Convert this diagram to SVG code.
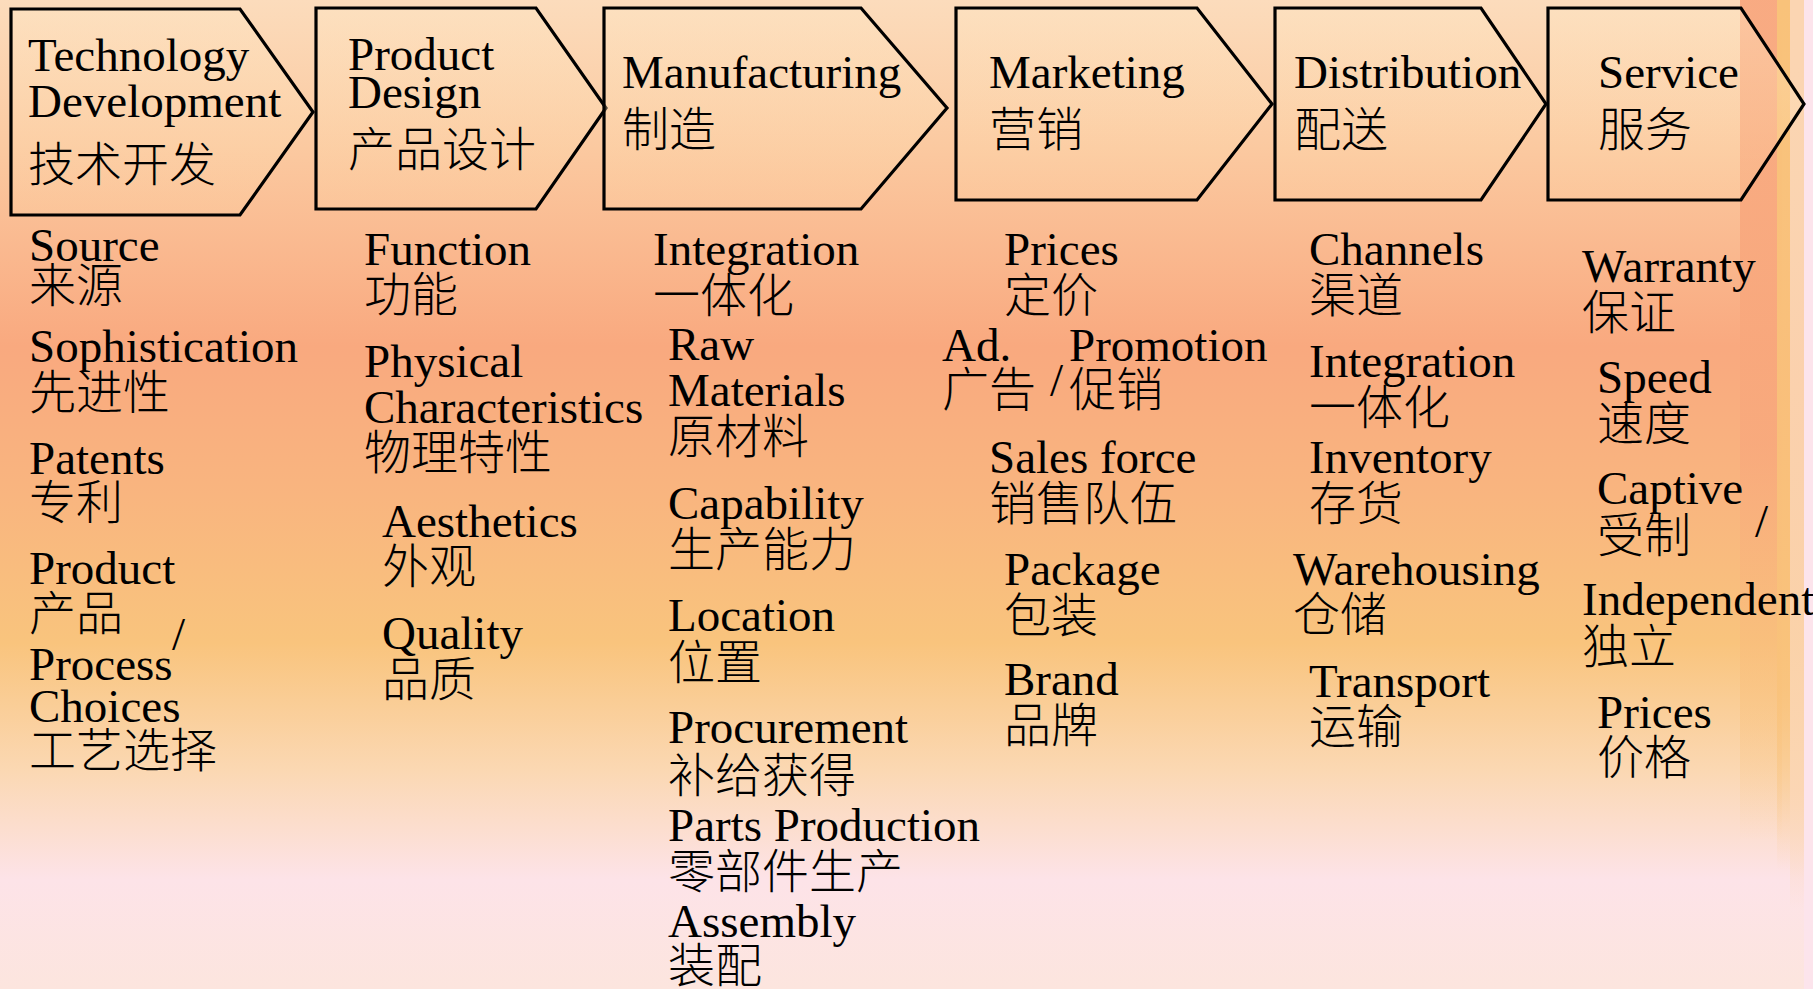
<svg xmlns="http://www.w3.org/2000/svg" width="1813" height="989" viewBox="0 0 1813 989">
<defs>
<linearGradient id="bg" x1="0" y1="0" x2="0" y2="1">
<stop offset="0" stop-color="#FCDCBC"/>
<stop offset="0.15" stop-color="#FBC9A0"/>
<stop offset="0.35" stop-color="#F9A97F"/>
<stop offset="0.5" stop-color="#F9B57F"/>
<stop offset="0.65" stop-color="#F9C47D"/>
<stop offset="0.78" stop-color="#FBD8B3"/>
<stop offset="0.89" stop-color="#FDE3E8"/>
<stop offset="1" stop-color="#FCE5DE"/>
</linearGradient>
<linearGradient id="bandSalmon" x1="0" y1="0" x2="0" y2="1">
<stop offset="0" stop-color="#F8A57C" stop-opacity="0.9"/>
<stop offset="0.45" stop-color="#F8A87C" stop-opacity="0.8"/>
<stop offset="0.7" stop-color="#F9C07C" stop-opacity="0.5"/>
<stop offset="0.85" stop-color="#F9C07C" stop-opacity="0"/>
</linearGradient>
<linearGradient id="bandYellow" x1="0" y1="0" x2="0" y2="1">
<stop offset="0" stop-color="#F9C27A"/>
<stop offset="0.7" stop-color="#F9C27A" stop-opacity="0.8"/>
<stop offset="0.88" stop-color="#F9C27A" stop-opacity="0"/>
</linearGradient>
<linearGradient id="bandPale" x1="0" y1="0" x2="0" y2="1">
<stop offset="0" stop-color="#FBD5B2"/>
<stop offset="0.8" stop-color="#FBD5B2" stop-opacity="0.8"/>
<stop offset="0.92" stop-color="#FBD5B2" stop-opacity="0"/>
</linearGradient>
<linearGradient id="boxfill" x1="0" y1="0" x2="0" y2="1">
<stop offset="0" stop-color="#FFE6C4" stop-opacity="0.45"/>
<stop offset="1" stop-color="#FFD9A8" stop-opacity="0.2"/>
</linearGradient>
<style>
.box{fill:url(#boxfill);stroke:#000;stroke-width:3.2;stroke-linejoin:miter}
text{font-family:'Liberation Serif','Times New Roman','Noto Sans CJK SC',serif;font-size:47px;fill:#000}
.zh{font-family:'Noto Sans CJK SC','Noto Sans CJK TC',sans-serif;font-weight:300}
</style>
</defs>
<rect x="0" y="0" width="1813" height="989" fill="url(#bg)"/>
<rect x="1740" y="0" width="42" height="989" fill="url(#bandSalmon)"/>
<rect x="1777" y="0" width="13" height="989" fill="url(#bandYellow)"/>
<rect x="1790" y="0" width="14" height="989" fill="url(#bandPale)"/>
<rect x="1804" y="0" width="9" height="989" fill="#FCE4EC"/>

<g id="connectors"></g>

<g id="node-technology">
<polygon class="box" points="11,9 240,9 313,112 240,215 11,215"/>
<text x="28" y="71">Technology</text>
<text x="28" y="117">Development</text>
<text class="zh" x="28" y="181">技术开发</text>
</g>
<g id="node-design">
<polygon class="box" points="316,8 536,8 606,108 536,209 316,209"/>
<text x="348" y="70">Product</text>
<text x="348" y="108">Design</text>
<text class="zh" x="348" y="166">产品设计</text>
</g>
<g id="node-manufacturing">
<polygon class="box" points="604,8 861,8 947,108 861,209 604,209"/>
<text x="622" y="88">Manufacturing</text>
<text class="zh" x="622" y="146">制造</text>
</g>
<g id="node-marketing">
<polygon class="box" points="956,8 1197,8 1272,104 1197,200 956,200"/>
<text x="989" y="88">Marketing</text>
<text class="zh" x="989" y="146">营销</text>
</g>
<g id="node-distribution">
<polygon class="box" points="1275,8 1481,8 1546,104 1481,200 1275,200"/>
<text x="1294" y="88">Distribution</text>
<text class="zh" x="1294" y="146">配送</text>
</g>
<g id="node-service">
<polygon class="box" points="1548,8 1741,8 1804,104 1741,200 1548,200"/>
<text x="1598" y="88">Service</text>
<text class="zh" x="1598" y="146">服务</text>
</g>

<g id="list-technology">
<text x="29" y="261">Source</text>
<text class="zh" x="29" y="302">来源</text>
<text x="29" y="362">Sophistication</text>
<text class="zh" x="29" y="409">先进性</text>
<text x="29" y="474">Patents</text>
<text class="zh" x="29" y="519">专利</text>
<text x="29" y="584">Product</text>
<text class="zh" x="29" y="630">产品</text>
<text x="172" y="650">/</text>
<text x="29" y="680">Process</text>
<text x="29" y="722">Choices</text>
<text class="zh" x="29" y="767">工艺选择</text>
</g>
<g id="list-design">
<text x="364" y="265">Function</text>
<text class="zh" x="364" y="311">功能</text>
<text x="364" y="377">Physical</text>
<text x="364" y="423">Characteristics</text>
<text class="zh" x="364" y="469">物理特性</text>
<text x="382" y="537">Aesthetics</text>
<text class="zh" x="382" y="583">外观</text>
<text x="382" y="649">Quality</text>
<text class="zh" x="382" y="696">品质</text>
</g>
<g id="list-manufacturing">
<text x="653" y="265">Integration</text>
<text class="zh" x="653" y="312">一体化</text>
<text x="668" y="360">Raw</text>
<text x="668" y="406">Materials</text>
<text class="zh" x="668" y="453">原材料</text>
<text x="668" y="519">Capability</text>
<text class="zh" x="668" y="566">生产能力</text>
<text x="668" y="631">Location</text>
<text class="zh" x="668" y="679">位置</text>
<text x="668" y="743">Procurement</text>
<text class="zh" x="668" y="792">补给获得</text>
<text x="668" y="841">Parts Production</text>
<text class="zh" x="668" y="888">零部件生产</text>
<text x="668" y="937">Assembly</text>
<text class="zh" x="668" y="982">装配</text>
</g>
<g id="list-marketing">
<text x="1004" y="265">Prices</text>
<text class="zh" x="1004" y="312">定价</text>
<text x="942" y="361">Ad.</text>
<text x="1069" y="361">Promotion</text>
<text class="zh" x="942" y="406">广告</text>
<text x="1050" y="396" font-size="40">/</text>
<text class="zh" x="1069" y="406">促销</text>
<text x="989" y="473">Sales force</text>
<text class="zh" x="989" y="520">销售队伍</text>
<text x="1004" y="585">Package</text>
<text class="zh" x="1004" y="632">包装</text>
<text x="1004" y="695">Brand</text>
<text class="zh" x="1004" y="742">品牌</text>
</g>
<g id="list-distribution">
<text x="1309" y="265">Channels</text>
<text class="zh" x="1309" y="312">渠道</text>
<text x="1309" y="377">Integration</text>
<text class="zh" x="1309" y="424">一体化</text>
<text x="1309" y="473">Inventory</text>
<text class="zh" x="1309" y="520">存货</text>
<text x="1293" y="585">Warehousing</text>
<text class="zh" x="1293" y="631">仓储</text>
<text x="1309" y="697">Transport</text>
<text class="zh" x="1309" y="743">运输</text>
</g>
<g id="list-service">
<text x="1582" y="282">Warranty</text>
<text class="zh" x="1582" y="329">保证</text>
<text x="1597" y="393">Speed</text>
<text class="zh" x="1597" y="440">速度</text>
<text x="1597" y="504">Captive</text>
<text class="zh" x="1597" y="552">受制</text>
<text x="1755" y="537">/</text>
<text x="1582" y="615">Independent</text>
<text class="zh" x="1582" y="663">独立</text>
<text x="1597" y="728">Prices</text>
<text class="zh" x="1597" y="774">价格</text>
</g>
</svg>
